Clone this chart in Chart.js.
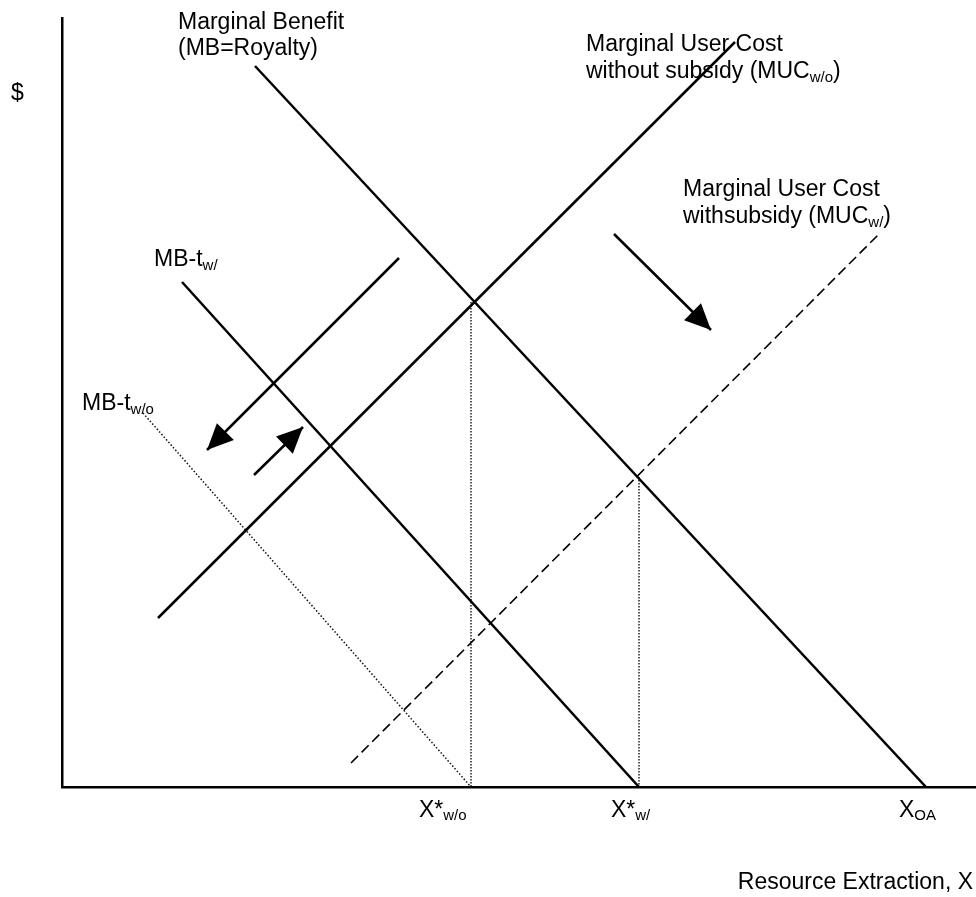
<!DOCTYPE html>
<html>
<head>
<meta charset="utf-8">
<script src="https://cdn.jsdelivr.net/npm/chart.js@4.4.0/dist/chart.umd.min.js"></script>
<style>
  body { margin: 0; background: #fff; }
  #wrap { width: 976px; height: 897px; }
</style>
</head>
<body>
<div id="wrap"><canvas id="chart" width="976" height="897"></canvas></div>
<script>
// curve end points (x = extraction, y = $)
const mbX = [193, 864], mbY = [721, 0];
const mucWoX = [96, 673], mucWoY = [169, 745];
const mucWX = [289, 817], mucWY = [24, 553];
const mbtWX = [120, 577], mbtWY = [505, 0];
const mbtWoX = [81, 409], mbtWoY = [374, 0];
// vertical drop lines from the two equilibria
const dropX = [409, 577], dropY = [485, 310];
// shift arrows: start -> tip
const arrowX = [[337, 145], [192, 241], [552, 649]];
const arrowY = [[529, 337], [312, 360], [553, 457]];

// x axis labels
const tickLabels = [["X", "*", "w/o"], ["X", "*", "w/"], ["X", "", "OA"]];
const tickLeft = [357, 549, 837];

const FONT = "'Liberation Sans', Arial, sans-serif";

function pts(xs, ys) {
  return xs.map((x, i) => ({ x: x, y: ys[i] }));
}

function line(label, xs, ys, opts) {
  return Object.assign({
    label: label,
    data: pts(xs, ys),
    showLine: true,
    pointRadius: 0,
    borderColor: '#000',
    borderWidth: 2.5,
    fill: false,
  }, opts || {});
}

const datasets = [
  line('MB', mbX, mbY),
  line('MUC w/o', mucWoX, mucWoY),
  line('MUC w/', mucWX, mucWY, { borderWidth: 1.6, borderDash: [10, 5] }),
  line('MB-t w/', mbtWX, mbtWY),
  line('MB-t w/o', mbtWoX, mbtWoY, { borderWidth: 1.5, borderDash: [1.5, 2], borderColor: '#111' }),
];
dropX.forEach((x, i) => {
  datasets.push(line('drop' + i, [x, x], [dropY[i], 0], { borderWidth: 1.5, borderDash: [1.5, 1.5], borderColor: '#222' }));
});
arrowX.forEach((xs, i) => {
  datasets.push(line('arrow' + i, xs, arrowY[i], { arrow: true }));
});

// text runs: [text, 'n' | 'sub']
function drawRuns(ctx, x, y, runs, size) {
  let cx = x;
  runs.forEach(r => {
    if (!r[0]) return;
    const sub = r[1] === 'sub';
    ctx.font = (sub ? Math.round(size * 0.66) : size) + 'px ' + FONT;
    ctx.fillText(r[0], cx, sub ? y + 4 : y);
    cx += ctx.measureText(r[0]).width;
  });
  return cx;
}

const annotations = [
  { x: 116, y: 758, runs: [["Marginal Benefit", 'n']] },
  { x: 116, y: 732, runs: [["(MB=Royalty)", 'n']] },
  { x: 524, y: 736, runs: [["Marginal User Cost", 'n']] },
  { x: 524, y: 709, runs: [["without subsidy (MUC", 'n'], ["w/o", 'sub'], [")", 'n']] },
  { x: 621, y: 591, runs: [["Marginal User Cost", 'n']] },
  { x: 621, y: 564, runs: [["withsubsidy (MUC", 'n'], ["w/", 'sub'], [")", 'n']] },
  { x: 92, y: 521, runs: [["MB-t", 'n'], ["w/", 'sub']] },
  { x: 20, y: 377, runs: [["MB-t", 'n'], ["w/o", 'sub']] },
];

const textPlugin = {
  id: 'textPlugin',
  afterDatasetsDraw(chart) {
    const ctx = chart.ctx;
    const xs = chart.scales.x, ys = chart.scales.y;
    ctx.save();
    ctx.fillStyle = '#000';
    ctx.textBaseline = 'alphabetic';
    ctx.textAlign = 'left';

    // arrow heads
    chart.data.datasets.forEach(ds => {
      if (!ds.arrow) return;
      const a = ds.data[0], b = ds.data[1];
      const x1 = xs.getPixelForValue(a.x), y1 = ys.getPixelForValue(a.y);
      const x2 = xs.getPixelForValue(b.x), y2 = ys.getPixelForValue(b.y);
      const ang = Math.atan2(y2 - y1, x2 - x1);
      const len = 26, half = 12;
      ctx.beginPath();
      ctx.moveTo(x2, y2);
      ctx.lineTo(x2 - len * Math.cos(ang) + half * Math.sin(ang), y2 - len * Math.sin(ang) - half * Math.cos(ang));
      ctx.lineTo(x2 - len * Math.cos(ang) - half * Math.sin(ang), y2 - len * Math.sin(ang) + half * Math.cos(ang));
      ctx.closePath();
      ctx.fill();
    });

    annotations.forEach(a => {
      drawRuns(ctx, xs.getPixelForValue(a.x), ys.getPixelForValue(a.y), a.runs, 23);
    });

    // axis labels
    const base = ys.bottom;
    tickLabels.forEach((t, i) => {
      const px = xs.getPixelForValue(tickLeft[i]);
      ctx.font = '23px ' + FONT;
      ctx.fillText(t[0], px, base + 30);
      let cx = px + ctx.measureText(t[0]).width;
      if (t[1]) {
        ctx.fillText(t[1], cx, base + 30);
        cx += ctx.measureText(t[1]).width;
      }
      ctx.font = '15px ' + FONT;
      ctx.fillText(t[2], cx, base + 33);
    });

    ctx.font = '23px ' + FONT;
    ctx.textAlign = 'right';
    ctx.fillText('Resource Extraction, X', xs.right - 3, base + 102);
    ctx.textAlign = 'left';
    ctx.fillText('$', 11, ys.top + 82);
    ctx.restore();
  }
};

new Chart(document.getElementById('chart'), {
  type: 'scatter',
  data: { datasets: datasets },
  options: {
    responsive: false,
    animation: false,
    layout: { padding: { left: 54, top: 18, right: 0, bottom: 102 } },
    plugins: { legend: { display: false }, tooltip: { enabled: false } },
    scales: {
      x: {
        type: 'linear', min: 0, max: 914,
        grid: { display: false },
        ticks: { display: false },
        border: { color: '#000', width: 2.5 },
      },
      y: {
        type: 'linear', min: 0, max: 769,
        grid: { display: false },
        ticks: { display: false },
        border: { color: '#000', width: 2.5 },
      },
    },
  },
  plugins: [textPlugin],
});
</script>
</body>
</html>
